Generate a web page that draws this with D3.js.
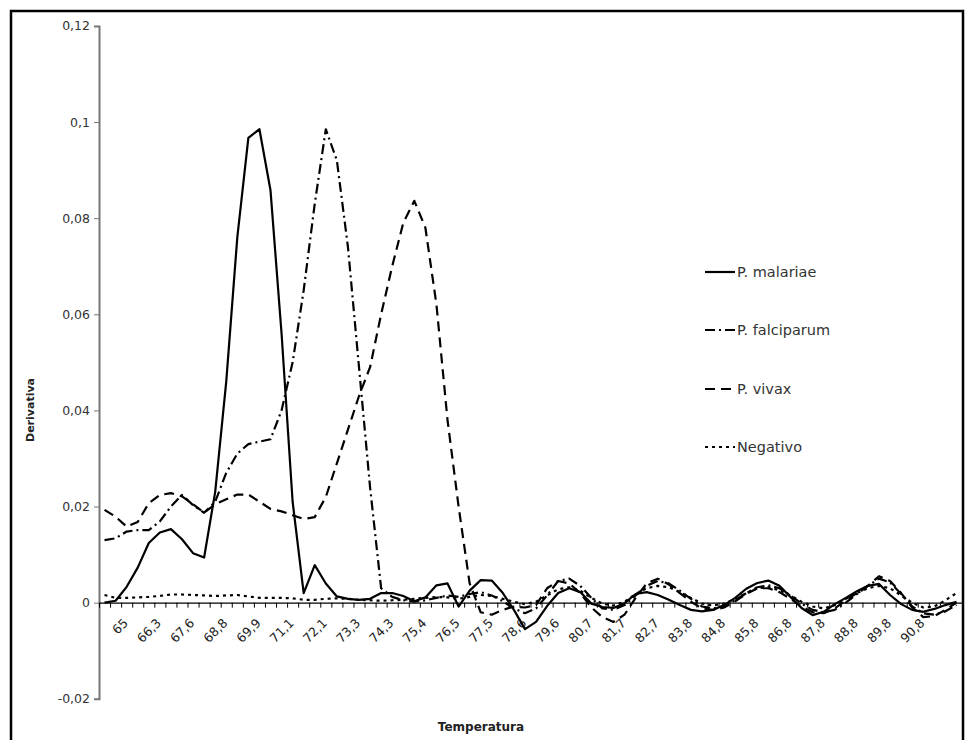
<!DOCTYPE html>
<html>
<head>
<meta charset="utf-8">
<script src="https://cdn.jsdelivr.net/npm/d3@7"></script>
<style>
  body { margin: 0; background: #fff; }
  svg { display: block; }
</style>
</head>
<body>
<div id="chart"></div>
<script>
/*global d3 */

////////////////////////////////////////
// data
////////////////////////////////////////

var temps = ["64,3", "64,6", "65", "65,4", "65,9", "66,3", "66,7", "67,2",
    "67,6", "68", "68,4", "68,8", "69,1", "69,5", "69,9", "70,3", "70,7",
    "71,1", "71,4", "71,8", "72,1", "72,5", "72,9", "73,3", "73,6", "74",
    "74,3", "74,7", "75", "75,4", "75,8", "76,1", "76,5", "76,8", "77,2",
    "77,5", "77,9", "78,2", "78,6", "78,9", "79,3", "79,6", "80", "80,3",
    "80,7", "81", "81,4", "81,7", "82", "82,4", "82,7", "83,1", "83,4",
    "83,8", "84,1", "84,5", "84,8", "85,1", "85,5", "85,8", "86,1", "86,5",
    "86,8", "87,1", "87,5", "87,8", "88,1", "88,5", "88,8", "89,1", "89,5",
    "89,8", "90,1", "90,5", "90,8", "91,1", "91,5", "91,8"];

// only every third temperature gets a label, starting at 65
var shownTemps = ["65", "66,3", "67,6", "68,8", "69,9", "71,1", "72,1",
    "73,3", "74,3", "75,4", "76,5", "77,5", "78,6", "79,6", "80,7", "81,7",
    "82,7", "83,8", "84,8", "85,8", "86,8", "87,8", "88,8", "89,8", "90,8"];

var malariae = [0, 0.0004, 0.0033, 0.0073, 0.0124, 0.0146, 0.0153, 0.0132,
    0.0103, 0.0094, 0.023, 0.046, 0.076, 0.0967, 0.0985, 0.0858, 0.056,
    0.021, 0.002, 0.0078, 0.004, 0.0013, 0.0008, 0.0006, 0.0008, 0.002,
    0.002, 0.0014, 0.0003, 0.0011, 0.0036, 0.004, -0.0008, 0.0025, 0.0047,
    0.0046, 0.002, -0.0015, -0.0055, -0.004, -0.0007, 0.002, 0.003, 0.0022,
    -0.0002, -0.0009, -0.0011, -0.0001, 0.0018, 0.0022, 0.0016, 0.0006,
    -0.0005, -0.0015, -0.0018, -0.0015, -0.0005, 0.001, 0.0029, 0.0041,
    0.0046, 0.0035, 0.0012, -0.0011, -0.0026, -0.0019, -0.0003, 0.001,
    0.0024, 0.0035, 0.0039, 0.0016, -0.0003, -0.0015, -0.0019, -0.0013,
    -0.0005, 0.0002];

var falciparum = [0.013, 0.0134, 0.0148, 0.0151, 0.0151, 0.0169, 0.02,
    0.0224, 0.0203, 0.0187, 0.021, 0.027, 0.031, 0.033, 0.0335, 0.034, 0.04,
    0.05, 0.065, 0.083, 0.0985, 0.092, 0.074, 0.049, 0.024, 0.003, 0.0012,
    0.0005, 0.0002, 0.0005, 0.001, 0.0015, 0.0012, 0.0018, 0.0022, 0.0015,
    0.0003, -0.0012, -0.0022, -0.0012, 0.0015, 0.0045, 0.005, 0.0035, 0.001,
    -0.0012, -0.0015, -0.0005, 0.0015, 0.0035, 0.0045, 0.004, 0.0025, 0.0008,
    -0.0008, -0.0012, -0.0008, 0.0005, 0.002, 0.0032, 0.0036, 0.003, 0.0015,
    -0.0002, -0.0015, -0.002, -0.0015, 0, 0.0018, 0.0035, 0.005, 0.0042,
    0.0018, -0.0008, -0.0022, -0.0025, -0.0018, -0.0005];

var vivax = [0.0193, 0.0179, 0.0158, 0.0168, 0.0207, 0.0224, 0.0228, 0.0221,
    0.0205, 0.0187, 0.0205, 0.0215, 0.0225, 0.0225, 0.021, 0.0195, 0.019,
    0.0182, 0.0174, 0.0178, 0.022, 0.029, 0.036, 0.043, 0.049, 0.06, 0.07,
    0.079, 0.0836, 0.078, 0.062, 0.038, 0.02, 0.004, -0.002, -0.0025,
    -0.0015, -0.0008, -0.001, -0.0005, 0.003, 0.0045, 0.004, 0.002, -0.001,
    -0.003, -0.004, -0.0025, 0.001, 0.004, 0.005, 0.0038, 0.002, 0.0002,
    -0.0012, -0.0015, -0.001, 0.0003, 0.0018, 0.003, 0.003, 0.0022, 0.0008,
    -0.0008, -0.002, -0.0022, -0.0012, 0.0005, 0.002, 0.0035, 0.0055,
    0.0045, 0.002, -0.001, -0.003, -0.0028, -0.0015, 0];

var negativo = [0.0016, 0.001, 0.001, 0.0011, 0.0012, 0.0014, 0.0017,
    0.0017, 0.0016, 0.0015, 0.0014, 0.0015, 0.0016, 0.0013, 0.001, 0.001,
    0.001, 0.0009, 0.0006, 0.0006, 0.0008, 0.0009, 0.0008, 0.0006, 0.0005,
    0.0004, 0.0005, 0.0006, 0.0008, 0.001, 0.0012, 0.0011, 0.0008, 0.0012,
    0.0016, 0.0014, 0.0008, 0.0002, -0.0003, 0.0002, 0.0015, 0.0028, 0.0032,
    0.0025, 0.001, -0.0002, -0.0006, 0.0002, 0.0018, 0.003, 0.0035, 0.0032,
    0.0022, 0.001, -0.0002, -0.0006, -0.0002, 0.0008, 0.002, 0.003, 0.0032,
    0.0026, 0.0015, 0.0002, -0.0008, -0.0012, -0.0005, 0.0008, 0.002, 0.003,
    0.0035, 0.003, 0.0015, 0, -0.001, -0.0008, 0.0005, 0.002];

var seriesNames = ["P. malariae", "P. falciparum", "P. vivax", "Negativo"];

var yTicks = [-0.02, 0, 0.02, 0.04, 0.06, 0.08, 0.1, 0.12];
var yTickLabels = ["-0,02", "0", "0,02", "0,04", "0,06", "0,08", "0,1", "0,12"];

var chart = (function () {
    "use strict";

    ////////////////////////////////////////
    // closure variables
    ////////////////////////////////////////

    var st = { width: 972, height: 740,
               left: 99, right: 962, top: 25.9, bottom: 698.8,
               font: "'DejaVu Sans', Verdana, sans-serif" },
        dashes = [null, "10,4,2,4", "10,6", "3,4"],


    ////////////////////////////////////////
    // helper functions
    ////////////////////////////////////////

    makeScales = function () {
        st.x = d3.scaleBand()
            .domain(d3.range(temps.length))
            .range([st.left, st.right])
            .padding(0);
        st.xEdge = d3.scaleLinear()
            .domain([0, temps.length])
            .range([st.left, st.right]);
        st.y = d3.scaleLinear()
            .domain([-0.02, 0.12])
            .range([st.bottom, st.top]);
        st.cx = function (i) {
            return st.x(i) + st.x.bandwidth() / 2; };
    },


    drawFrame = function () {
        st.svg.append("rect")
            .attr("x", 11).attr("y", 11)
            .attr("width", 952).attr("height", 800)
            .attr("fill", "none")
            .attr("stroke", "#000")
            .attr("stroke-width", 2.5);
    },


    drawAxes = function () {
        var yax, xax, g;
        yax = d3.axisLeft(st.y)
            .tickValues(yTicks)
            .tickSize(5)
            .tickPadding(4)
            .tickFormat(function (d, i) { return yTickLabels[i]; });
        g = st.svg.append("g")
            .attr("transform", "translate(" + st.left + ",0)")
            .call(yax);
        g.select(".domain").attr("stroke", "#777").attr("stroke-width", 2);
        g.selectAll(".tick line").attr("stroke", "#777");
        g.selectAll(".tick text")
            .attr("fill", "#333")
            .style("font-family", st.font)
            .style("font-size", "12.5px");

        xax = d3.axisBottom(st.xEdge)
            .tickValues(d3.range(temps.length + 1))
            .tickSize(5)
            .tickSizeOuter(0)
            .tickFormat("");
        g = st.svg.append("g")
            .attr("transform", "translate(0," + st.y(0) + ")")
            .call(xax);
        g.select(".domain").attr("stroke", "#000").attr("stroke-width", 1.2);
        g.selectAll(".tick line").attr("stroke", "#000");

        st.svg.append("g").selectAll("text")
            .data(shownTemps)
            .enter().append("text")
            .attr("transform", function (d) {
                var i = temps.indexOf(d);
                return "translate(" + (st.cx(i) - 1) + "," +
                    (st.y(0) + 18) + ") rotate(-45)"; })
            .attr("text-anchor", "end")
            .attr("dy", "0.35em")
            .attr("fill", "#222")
            .style("font-family", st.font)
            .style("font-size", "12.5px")
            .text(function (d) { return d; });

        st.svg.append("text")
            .attr("transform", "translate(34,410) rotate(-90)")
            .attr("text-anchor", "middle")
            .attr("fill", "#222")
            .style("font-family", st.font)
            .style("font-size", "11px")
            .style("font-weight", "bold")
            .text("Derivativa");

        st.svg.append("text")
            .attr("x", 481).attr("y", 731)
            .attr("text-anchor", "middle")
            .attr("fill", "#222")
            .style("font-family", st.font)
            .style("font-size", "12px")
            .style("font-weight", "bold")
            .text("Temperatura");
    },


    drawLines = function () {
        var line = d3.line()
                .x(function (d, i) { return st.cx(i); })
                .y(function (d) { return st.y(d); }),
            all = [malariae, falciparum, vivax, negativo];
        st.svg.append("g").selectAll("path")
            .data(all)
            .enter().append("path")
            .attr("d", line)
            .attr("fill", "none")
            .attr("stroke", "#000")
            .attr("stroke-width", 2.2)
            .attr("stroke-linejoin", "round")
            .attr("stroke-dasharray", function (d, i) { return dashes[i]; });
    },


    drawLegend = function () {
        var leg = st.svg.append("g"),
            ys = [272, 330, 389, 447],
            row = leg.selectAll("g")
                .data(seriesNames)
                .enter().append("g")
                .attr("transform", function (d, i) {
                    return "translate(705," + ys[i] + ")"; });
        row.append("line")
            .attr("x1", 0).attr("x2", 30)
            .attr("stroke", "#000")
            .attr("stroke-width", 2.2)
            .attr("stroke-dasharray", function (d, i) { return dashes[i]; });
        row.append("text")
            .attr("x", 32)
            .attr("dy", "0.35em")
            .attr("fill", "#333")
            .style("font-family", st.font)
            .style("font-size", "14.5px")
            .text(function (d) { return d; });
    };


    ////////////////////////////////////////
    // published functions
    ////////////////////////////////////////
return {

    run: function () {
        st.svg = d3.select("#chart").append("svg")
            .attr("width", st.width)
            .attr("height", st.height);
        st.svg.append("rect")
            .attr("width", st.width).attr("height", st.height)
            .attr("fill", "#fff");
        makeScales();
        drawFrame();
        drawAxes();
        drawLines();
        drawLegend();
    }

};  //end of returned functions
}());

chart.run();
</script>
</body>
</html>
